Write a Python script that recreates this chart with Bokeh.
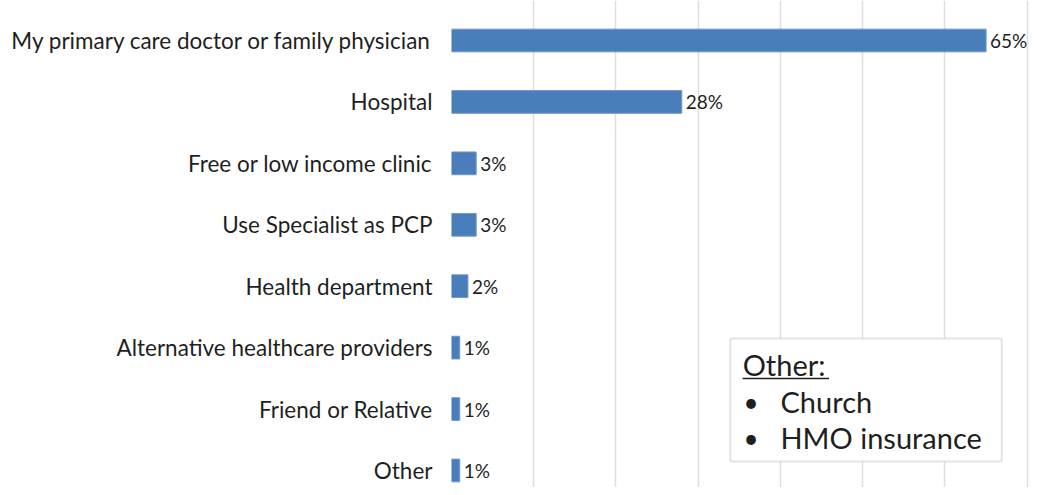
from bokeh.plotting import figure
from bokeh.models import Range1d, FixedTicker, BoxAnnotation, Label, LabelSet, ColumnDataSource
from bokeh.core.properties import value
from bokeh.embed import file_html
from bokeh.resources import INLINE

categories = [
    "My primary care doctor or family physician",
    "Hospital",
    "Free or low income clinic",
    "Use Specialist as PCP",
    "Health department",
    "Alternative healthcare providers",
    "Friend or Relative",
    "Other",
]
values = [65, 28, 3, 3, 2, 1, 1, 1]
value_labels = [f"{v}%" for v in values]
grid_ticks = [0, 10, 20, 30, 40, 50, 60, 70]
other_title = "Other:"
other_items = ["Church", "HMO insurance"]

FONT = "Lato"
TEXT = "#1f1f1f"
BAR = "#4a7ebb"

idx = list(range(len(categories)))
src = ColumnDataSource(dict(y=idx, v=values, lab=value_labels))

p = figure(width=1030, height=487, output_backend="svg", toolbar_location=None,
           x_range=Range1d(0, 70.4), y_range=Range1d(7.277, -0.651),
           min_border_left=451, min_border_right=0, min_border_top=0, min_border_bottom=0)
p.outline_line_color = None
p.background_fill_color = "white"
p.border_fill_color = "white"

p.hbar(y="y", right="v", left=0, height=0.37, source=src,
       fill_color=BAR, line_color="#6f98c9", line_width=1)
p.add_layout(LabelSet(x="v", y="y", text="lab", source=src, x_offset=4, text_baseline="middle",
                      text_align="left", text_font=value(FONT), text_font_size=value("19px"),
                      text_color=TEXT))

p.xaxis.visible = False
p.xgrid.ticker = FixedTicker(ticks=grid_ticks)
p.xgrid.grid_line_color = "#dedede"
p.xgrid.grid_line_width = 1.5
p.ygrid.grid_line_color = None

ya = p.yaxis[0]
ya.ticker = FixedTicker(ticks=idx)
ya.major_label_overrides = {i: c for i, c in zip(idx, categories)}
ya.axis_line_color = None
ya.major_tick_line_color = None
ya.minor_tick_line_color = None
ya.major_tick_out = 0
ya.major_tick_in = 0
ya.major_label_standoff = 19
ya.major_label_text_font = FONT
ya.major_label_text_font_size = "22.5px"
ya.major_label_text_color = TEXT

# "Other" note box
p.add_layout(BoxAnnotation(left=33.9, right=66.9, top=4.851, bottom=6.853,
                           fill_color="white", fill_alpha=1.0,
                           line_color="#a6a6a6", line_width=2, level="overlay"))
p.add_layout(Label(x=35.4, y=5.27, text=other_title, text_font=FONT, text_font_size="29px",
                   text_color=TEXT, text_baseline="middle", level="overlay"))
p.add_layout(BoxAnnotation(left=35.4, right=45.9, top=5.49, bottom=5.515,
                           fill_color=TEXT, fill_alpha=1.0, line_color=None, level="overlay"))
for i, item in enumerate(other_items):
    yy = 5.88 + i * 0.585
    p.add_layout(Label(x=35.5, y=yy, text="\u2022", text_font=FONT, text_font_size="26px",
                       text_color=TEXT, text_baseline="middle", level="overlay"))
    p.add_layout(Label(x=40.0, y=yy, text=item, text_font=FONT, text_font_size="29px",
                       text_color=TEXT, text_baseline="middle", level="overlay"))

open("out.html", "w").write(file_html(p, INLINE))
